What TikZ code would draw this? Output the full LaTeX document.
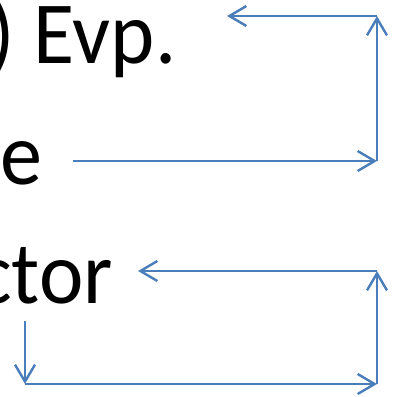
\documentclass[tikz,border=0pt]{standalone}
\usepackage{fontspec}
\usepackage{graphicx}
\setmainfont{Carlito}
\usetikzlibrary{arrows.meta}
\definecolor{arrowblue}{RGB}{74,126,187}
\newcommand{\narrowtext}[1]{\scalebox{0.95}[1]{#1}}
\begin{document}
\begin{tikzpicture}[x=1bp,y=-1bp,
  lbl/.style={inner sep=0pt, font=\fontsize{88.6bp}{100bp}\selectfont, text=black},
  arr/.style={draw=arrowblue, line width=2.4bp,
    -{Straight Barb[length=17bp,width=20bp,line width=2.4bp]}}]
\clip (0,0) rectangle (394,397);
\useasboundingbox (0,0) rectangle (394,397);
% texts
\node[lbl, anchor=base west] (evp) at (-11,63) {\narrowtext{) Evp.}};
\node[lbl, anchor=base west] (e) at (0,184) {\narrowtext{e}};
\node[lbl, anchor=base east] (ctor) at (113,303) {\narrowtext{ctor}};
% connector points
\coordinate (midL) at (73,161);
\coordinate (midR) at (377,161);
\coordinate (topR) at (377,16);
\coordinate (topL) at (227,16);
\coordinate (lowR) at (377,271);
\coordinate (lowL) at (138,271);
\coordinate (botR) at (377,384);
\coordinate (botL) at (25,384);
\coordinate (ctorD) at (25,321);
% connectors
\draw[arr] (midL) -- (midR);
\draw[arr] (midR) -- (topR);
\draw[arr] (topR) -- (topL);
\draw[arr] (ctorD) -- (botL);
\draw[arr] (botL) -- (botR);
\draw[arr] (botR) -- (lowR);
\draw[arr] (lowR) -- (lowL);
\end{tikzpicture}
\end{document}
